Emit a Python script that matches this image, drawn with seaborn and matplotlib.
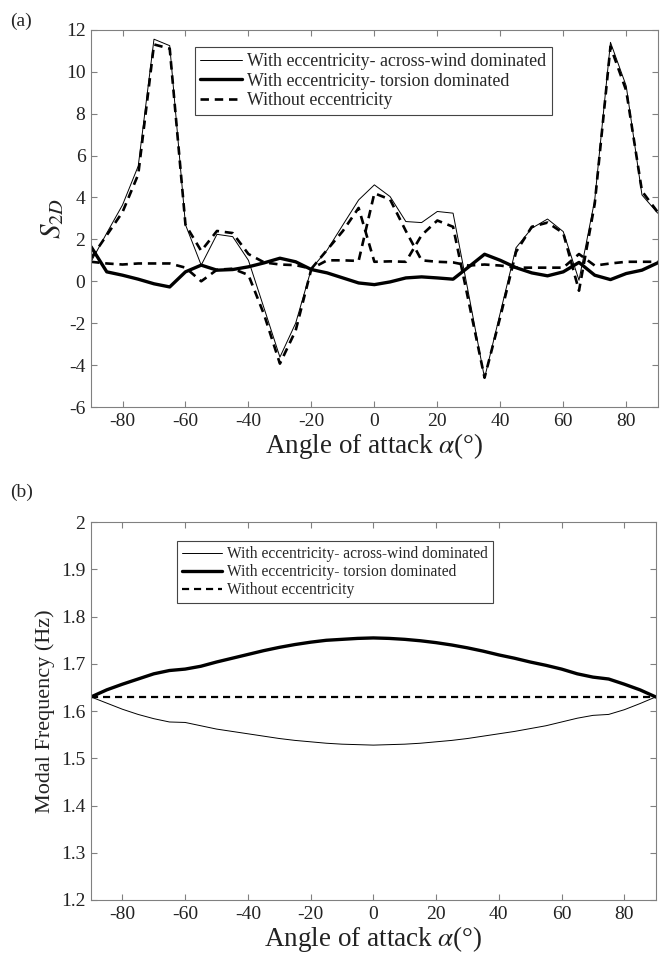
import matplotlib
matplotlib.use("Agg")
import matplotlib.pyplot as plt
import seaborn as sns
import pandas as pd

# ---------------- data ----------------
alpha = [-90, -85, -80, -75, -70, -65, -60, -55, -50, -45, -40, -35, -30, -25, -20,
         -15, -10, -5, 0, 5, 10, 15, 20, 25, 30, 35, 40, 45, 50, 55, 60, 65, 70,
         75, 80, 85, 90]

# (a) S_2D
s2d_across = [0.93, 2.3, 3.64, 5.5, 11.55, 11.24, 2.7, 0.77, 2.24, 2.13, 1.0, -1.3,
              -3.62, -2.0, 0.6, 1.49, 2.69, 3.88, 4.6, 4.04, 2.85, 2.8, 3.33, 3.25,
              -0.65, -4.62, -1.5, 1.6, 2.53, 2.97, 2.37, 0.05, 3.88, 11.4, 9.32,
              4.12, 3.25]
s2d_torsion = [1.65, 0.45, 0.29, 0.1, -0.12, -0.27, 0.45, 0.77, 0.53, 0.56, 0.69,
               0.88, 1.1, 0.93, 0.56, 0.4, 0.16, -0.08, -0.16, -0.03, 0.16, 0.21,
               0.16, 0.1, 0.69, 1.29, 1.0, 0.65, 0.4, 0.26, 0.45, 0.9, 0.29, 0.08,
               0.37, 0.53, 0.88]
s2d_without_1 = [1.1, 2.2, 3.3, 5.1, 11.3, 11.1, 2.7, 1.45, 2.4, 2.3, 1.3, 0.9, 0.8,
                 0.77, 0.6, 1.5, 2.4, 3.5, 0.93, 0.95, 0.93, 2.2, 2.9, 2.6, -1.0,
                 -4.6, -1.7, 1.4, 2.6, 2.8, 2.3, -0.45, 3.7, 11.2, 9.1, 4.3, 3.3]
s2d_without_2 = [0.93, 0.85, 0.8, 0.85, 0.85, 0.85, 0.65, 0.0, 0.55, 0.6, 0.3, -1.6,
                 -3.93, -2.35, 0.6, 1.0, 1.0, 0.97, 4.2, 3.9, 2.4, 1.0, 0.93, 0.9,
                 0.75, 0.8, 0.75, 0.65, 0.65, 0.65, 0.65, 1.3, 0.75, 0.85, 0.93,
                 0.93, 0.93]

# (b) modal frequency
f_across = [1.63, 1.617, 1.604, 1.593, 1.584, 1.577, 1.576, 1.569, 1.562, 1.557,
            1.552, 1.547, 1.542, 1.538, 1.535, 1.532, 1.530, 1.529, 1.528, 1.529,
            1.530, 1.532, 1.535, 1.538, 1.542, 1.547, 1.552, 1.557, 1.563, 1.569,
            1.577, 1.585, 1.591, 1.593, 1.603, 1.616, 1.63]
f_torsion = [1.63, 1.645, 1.657, 1.668, 1.679, 1.686, 1.689, 1.695, 1.704, 1.712,
             1.720, 1.728, 1.735, 1.741, 1.746, 1.750, 1.752, 1.754, 1.755, 1.754,
             1.752, 1.749, 1.745, 1.740, 1.734, 1.727, 1.719, 1.712, 1.704, 1.697,
             1.689, 1.679, 1.672, 1.668, 1.657, 1.645, 1.63]
f_without = [1.63, 1.63, 1.63, 1.63, 1.63, 1.63, 1.63, 1.63, 1.63, 1.63, 1.63, 1.63,
             1.63, 1.63, 1.63, 1.63, 1.63, 1.63, 1.63, 1.63, 1.63, 1.63, 1.63, 1.63,
             1.63, 1.63, 1.63, 1.63, 1.63, 1.63, 1.63, 1.63, 1.63, 1.63, 1.63, 1.63,
             1.63]

labels = ["With eccentricity- across-wind dominated",
          "With eccentricity- torsion dominated",
          "Without eccentricity"]
xticks = [-80, -60, -40, -20, 0, 20, 40, 60, 80]

# ---------------- style ----------------
sns.set_style("ticks")
plt.rcParams["font.family"] = ["Liberation Serif", "DejaVu Serif"]
plt.rcParams["mathtext.fontset"] = "stix"
plt.rcParams["axes.unicode_minus"] = False

fig = plt.figure(figsize=(6.62, 9.6), dpi=100)
ax1 = fig.add_axes([0.1375, 0.576, 0.856, 0.393])
ax2 = fig.add_axes([0.1375, 0.0625, 0.853, 0.3935])

spine_col = "#808080"
TXT = "#222222"
DASH = (0, (3.2, 2.2))


def style_axes(ax, fs):
    for s in ax.spines.values():
        s.set_visible(True)
        s.set_color(spine_col)
        s.set_linewidth(0.8)
    ax.tick_params(direction="in", length=4, width=0.8, color=spine_col,
                   top=True, right=True, labelsize=fs, labelcolor=TXT, pad=4)
    ax.set_xlim(-90, 90)
    ax.set_xticks(xticks)


# ---- (a) ----
df_a = pd.DataFrame({"alpha": alpha, "across": s2d_across, "torsion": s2d_torsion,
                     "w1": s2d_without_1, "w2": s2d_without_2})
sns.lineplot(data=df_a, x="alpha", y="across", ax=ax1, color="black",
             linewidth=0.7, label=labels[0])
sns.lineplot(data=df_a, x="alpha", y="torsion", ax=ax1, color="black",
             linewidth=2.4, label=labels[1])
sns.lineplot(data=df_a, x="alpha", y="w1", ax=ax1, color="black",
             linewidth=1.9, linestyle=DASH, label=labels[2])
sns.lineplot(data=df_a, x="alpha", y="w2", ax=ax1, color="black",
             linewidth=1.9, linestyle=DASH, label="_nolegend_")
style_axes(ax1, 14)
ax1.set_ylim(-6, 12)
ax1.set_yticks([-6, -4, -2, 0, 2, 4, 6, 8, 10, 12])
ax1.set_xlabel(r"Angle of attack $\alpha$(°)", fontsize=19.5, color=TXT,
               labelpad=1)
ax1.set_ylabel(r"$S_{2D}$", fontsize=21, color=TXT, labelpad=0)
leg1 = ax1.legend(loc="upper left", bbox_to_anchor=(0.183, 0.953), fontsize=12.9,
                  frameon=True, fancybox=False, framealpha=1, edgecolor="#444444",
                  borderpad=0.32, labelspacing=0.14, handlelength=2.3,
                  handletextpad=0.3, borderaxespad=0)
leg1.get_frame().set_linewidth(0.8)

# ---- (b) ----
df_b = pd.DataFrame({"alpha": alpha, "across": f_across, "torsion": f_torsion,
                     "without": f_without})
sns.lineplot(data=df_b, x="alpha", y="across", ax=ax2, color="black",
             linewidth=0.7, label=labels[0])
sns.lineplot(data=df_b, x="alpha", y="torsion", ax=ax2, color="black",
             linewidth=2.4, label=labels[1])
sns.lineplot(data=df_b, x="alpha", y="without", ax=ax2, color="black",
             linewidth=1.6, linestyle=DASH, label=labels[2])
style_axes(ax2, 14)
ax2.set_ylim(1.2, 2.0)
ax2.set_yticks([1.2, 1.3, 1.4, 1.5, 1.6, 1.7, 1.8, 1.9, 2.0])
ax2.set_yticklabels(["1.2", "1.3", "1.4", "1.5", "1.6", "1.7", "1.8", "1.9", "2"])
ax2.set_xlabel(r"Angle of attack $\alpha$(°)", fontsize=19.5, color=TXT,
               labelpad=1)
ax2.set_ylabel("Modal Frequency (Hz)", fontsize=16, color=TXT, labelpad=4)
leg2 = ax2.legend(loc="upper left", bbox_to_anchor=(0.152, 0.95), fontsize=11.2,
                  frameon=True, fancybox=False, framealpha=1, edgecolor="#444444",
                  borderpad=0.32, labelspacing=0.14, handlelength=2.6,
                  handletextpad=0.3, borderaxespad=0)
leg2.get_frame().set_linewidth(0.8)

fig.text(0.015, 0.978, "(a)", fontsize=14, va="center", ha="left")
fig.text(0.015, 0.487, "(b)", fontsize=14, va="center", ha="left")

fig.savefig("out.png", dpi=100)
